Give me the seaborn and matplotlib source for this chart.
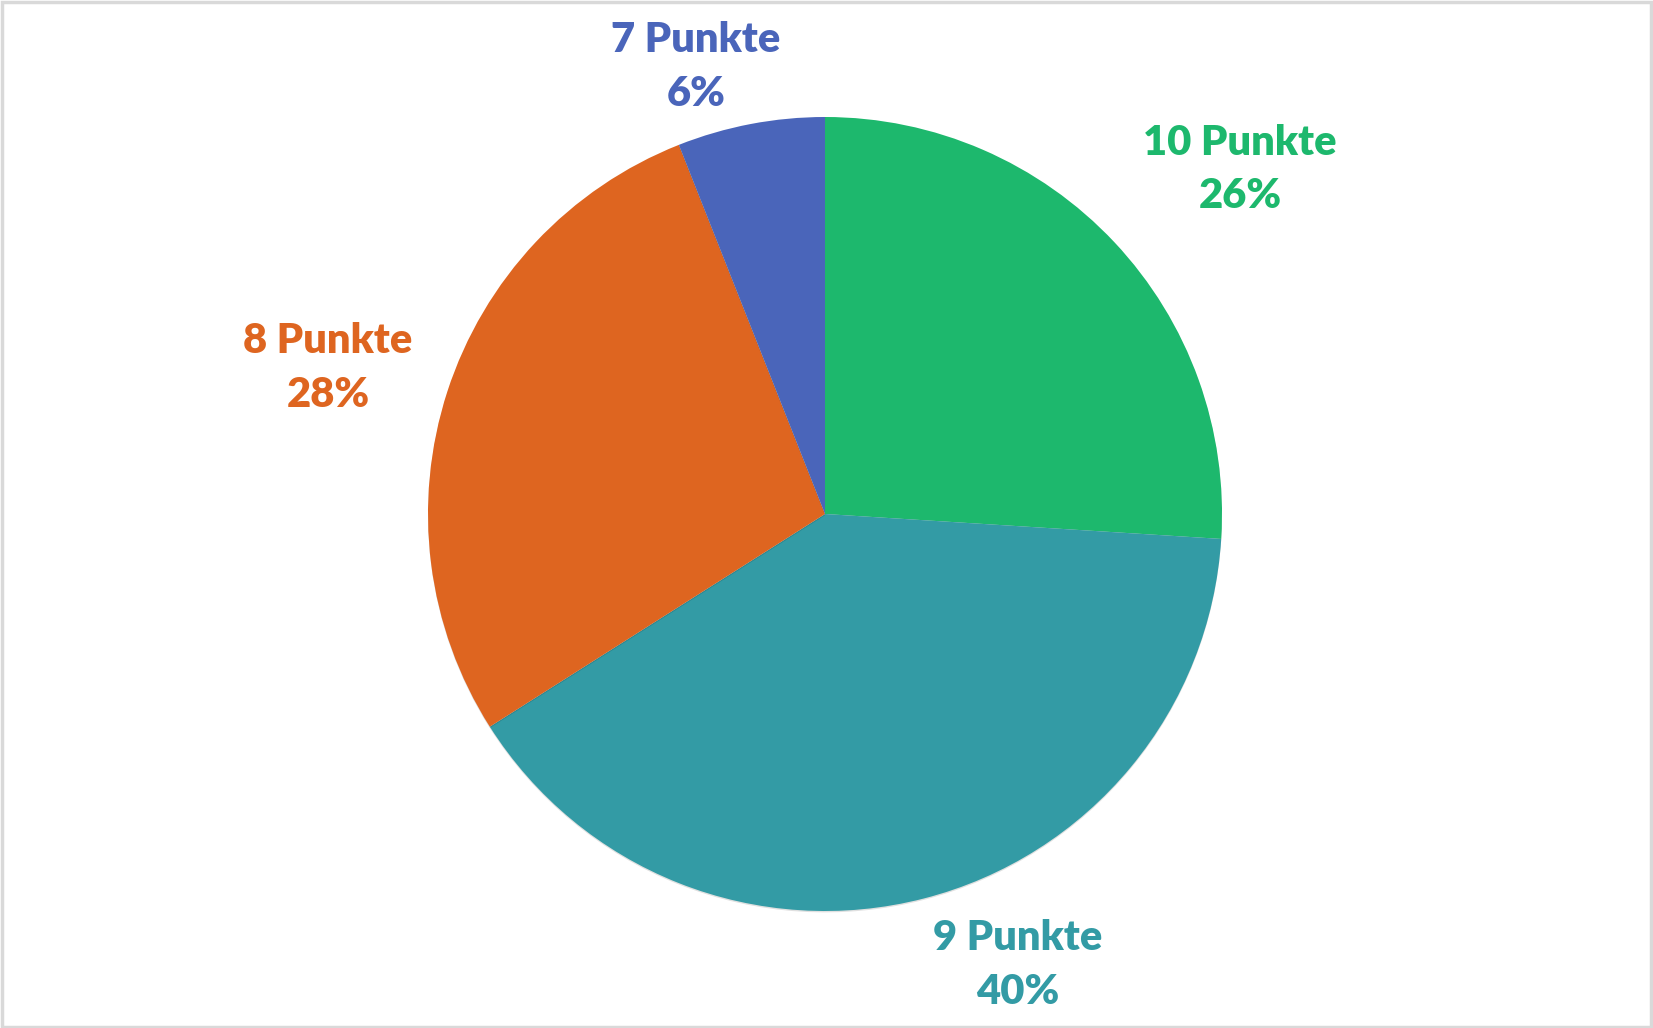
import matplotlib
matplotlib.use("Agg")
import matplotlib.pyplot as plt
import matplotlib.patheffects as pe
import seaborn as sns

# data
categories = ["10 Punkte", "9 Punkte", "8 Punkte", "7 Punkte"]
shares = [26, 40, 28, 6]
colors = ["#1DB86D", "#339BA5", "#DE6520", "#4A65BA"]

# label centres in pie-radius units (relative to pie centre)
label_pos = [(1.045, 0.868), (0.486, -1.136), (-1.252, 0.368), (-0.325, 1.126)]

sns.set_theme(style="white")
plt.rcParams['font.family'] = ['Lato', 'DejaVu Sans']

W, H, dpi = 1653, 1028, 100
cx, cy, R = 825, 514, 397

fig = plt.figure(figsize=(W / dpi, H / dpi), dpi=dpi)
fig.patch.set_facecolor("white")
ax = fig.add_axes([0, 0, 1, 1])

wedges, _ = ax.pie(shares, colors=colors, startangle=90, counterclock=False,
                   radius=1, wedgeprops=dict(linewidth=0))
for w in wedges:
    w.set_path_effects([pe.SimplePatchShadow(offset=(0, -1), shadow_rgbFace="#000000",
                                             alpha=0.12), pe.Normal()])

ax.set_xlim(-cx / R, (W - cx) / R)
ax.set_ylim(-(H - cy) / R, cy / R)
ax.set_aspect("auto")
ax.axis("off")

for name, val, col, (x, y) in zip(categories, shares, colors, label_pos):
    ax.text(x, y, f"{name}\n{val}%", ha="center", va="center", color=col,
            fontsize=30, fontweight="heavy", linespacing=1.5)

# light grey frame around the chart area
fig.add_artist(plt.Rectangle((0.001, 0.001), 0.998, 0.997, transform=fig.transFigure,
                             fill=False, edgecolor="#D9D9D9", linewidth=2.5))

fig.savefig("out.png", dpi=dpi, facecolor="white")
